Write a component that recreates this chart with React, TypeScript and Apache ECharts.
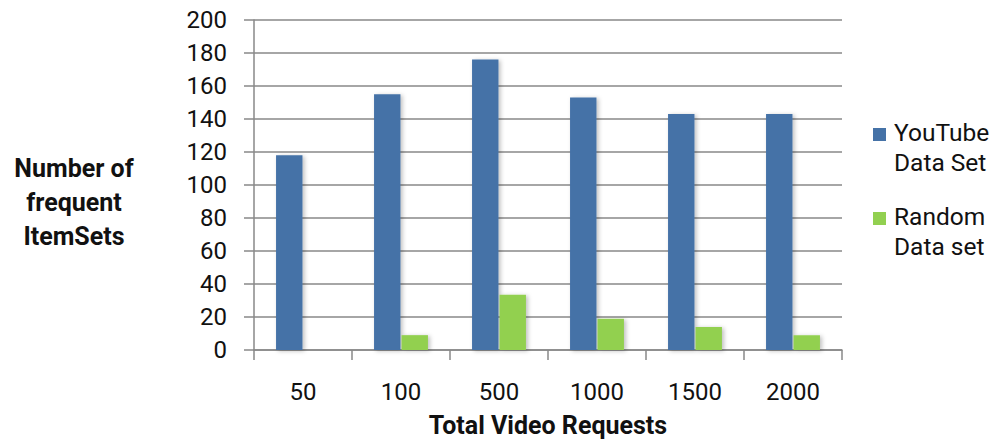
import React, { useEffect, useRef } from "react";
import * as echarts from "echarts";

const categories = ["50", "100", "500", "1000", "1500", "2000"];
const youtubeValues = [118, 155, 176, 153, 143, 143];
const randomValues = [0, 9, 33.5, 19, 14, 9];
const seriesNames = ["YouTube Data Set", "Random Data set"];
const yTicks = { min: 0, max: 200, interval: 20 };

const FONT = "Roboto";

export default function App() {
  const ref = useRef<HTMLDivElement>(null);
  useEffect(() => {
    if (!ref.current) return;
    const chart = echarts.init(ref.current, null, { renderer: "svg" });
    const legendIcon = "path://M0,0M0,11h13v13h-13zM0,60";
    chart.setOption({
      animation: false,
      backgroundColor: "#ffffff",
      grid: { left: 254, right: 153, top: 20, bottom: 90 },
      legend: {
        orient: "vertical",
        left: 873,
        top: 117,
        padding: 0,
        itemGap: 24,
        itemWidth: 13,
        itemHeight: 60,
        icon: legendIcon,
        data: seriesNames,
        formatter: (name: string) =>
          name === seriesNames[0] ? "YouTube\nData Set" : "Random\nData set",
        textStyle: {
          fontFamily: FONT,
          fontSize: 24.5,
          color: "#111",
          lineHeight: 30,
          padding: [0, 0, 0, 3],
        },
      },
      xAxis: {
        type: "category",
        data: categories,
        name: "Total Video Requests",
        nameLocation: "middle",
        nameGap: 63,
        nameTextStyle: {
          fontFamily: FONT,
          fontSize: 25,
          fontWeight: "bold",
          color: "#111",
        },
        axisLine: { lineStyle: { color: "#888", width: 1.5 } },
        axisTick: { show: true, length: 10, lineStyle: { color: "#888", width: 1.5 } },
        axisLabel: { fontFamily: FONT, fontSize: 24, color: "#111", margin: 30 },
      },
      yAxis: {
        type: "value",
        min: yTicks.min,
        max: yTicks.max,
        interval: yTicks.interval,
        name: "\nNumber of\nfrequent\nItemSets",
        nameLocation: "middle",
        nameRotate: 0,
        nameGap: 180,
        nameTextStyle: {
          fontFamily: FONT,
          fontSize: 25,
          fontWeight: "bold",
          color: "#111",
          align: "center",
          verticalAlign: "middle",
          lineHeight: 34,
        },
        axisLine: { show: true, lineStyle: { color: "#888", width: 1.5 } },
        axisTick: { show: true, length: 10, lineStyle: { color: "#888", width: 1.5 } },
        axisLabel: { fontFamily: FONT, fontSize: 24, color: "#111", margin: 27 },
        splitLine: { show: true, lineStyle: { color: "#888", width: 1.5 } },
      },
      series: [
        {
          name: seriesNames[0],
          type: "bar",
          data: youtubeValues,
          barCategoryGap: "45%",
          barGap: "4%",
          itemStyle: {
            color: "#4572A7",
            shadowColor: "rgba(0,0,0,0.25)",
            shadowBlur: 4,
            shadowOffsetX: 2,
            shadowOffsetY: 1,
          },
        },
        {
          name: seriesNames[1],
          type: "bar",
          data: randomValues,
          itemStyle: {
            color: "#92D050",
            shadowColor: "rgba(0,0,0,0.25)",
            shadowBlur: 4,
            shadowOffsetX: 2,
            shadowOffsetY: 1,
          },
        },
      ],
    });
    return () => chart.dispose();
  }, []);
  return <div ref={ref} style={{ width: 995, height: 443, position: "absolute", left: 0, top: 0 }} />;
}
